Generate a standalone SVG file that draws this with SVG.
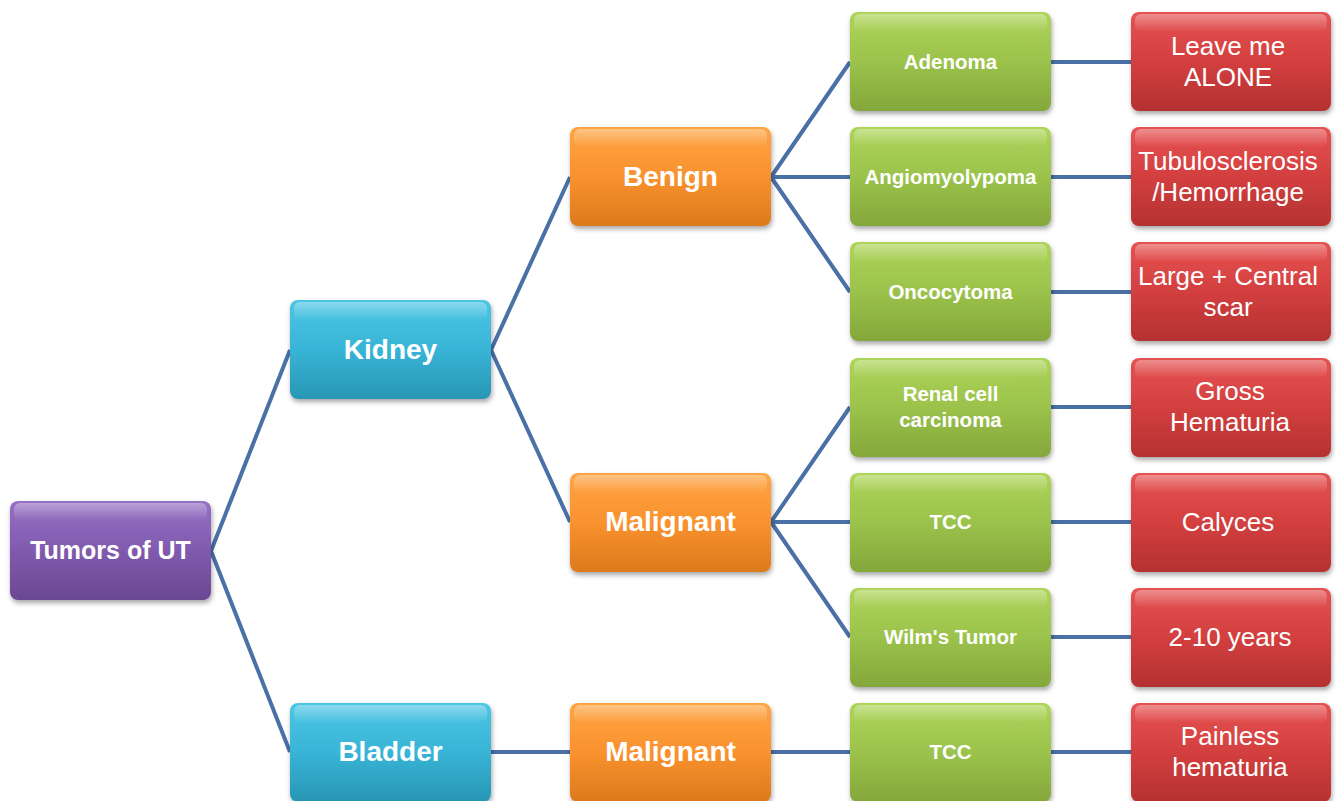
<svg xmlns="http://www.w3.org/2000/svg" width="1336" height="801" viewBox="0 0 1336 801">
<defs>
<linearGradient id="gP" x1="0" y1="0" x2="0" y2="1"><stop offset="0" stop-color="#9670c4"/><stop offset="0.5" stop-color="#805aae"/><stop offset="1" stop-color="#6b4892"/></linearGradient>
<linearGradient id="gC" x1="0" y1="0" x2="0" y2="1"><stop offset="0" stop-color="#4cc6e4"/><stop offset="0.5" stop-color="#38b4d6"/><stop offset="1" stop-color="#2896b4"/></linearGradient>
<linearGradient id="gO" x1="0" y1="0" x2="0" y2="1"><stop offset="0" stop-color="#ffa443"/><stop offset="0.5" stop-color="#f9922e"/><stop offset="1" stop-color="#dc7a1c"/></linearGradient>
<linearGradient id="gG" x1="0" y1="0" x2="0" y2="1"><stop offset="0" stop-color="#aed459"/><stop offset="0.5" stop-color="#9bc24b"/><stop offset="1" stop-color="#84a73a"/></linearGradient>
<linearGradient id="gR" x1="0" y1="0" x2="0" y2="1"><stop offset="0" stop-color="#e65252"/><stop offset="0.5" stop-color="#d33f3f"/><stop offset="1" stop-color="#b53131"/></linearGradient>
<linearGradient id="hl" x1="0" y1="0" x2="0" y2="1"><stop offset="0" stop-color="#fff" stop-opacity="0.35"/><stop offset="1" stop-color="#fff" stop-opacity="0"/></linearGradient>
<filter id="sh" x="-10%" y="-10%" width="125%" height="130%"><feDropShadow dx="1" dy="3" stdDeviation="2.5" flood-color="#000" flood-opacity="0.35"/></filter>
</defs>
<style>
.box{filter:url(#sh);}
.hl{fill:url(#hl);}
.t{font-family:"Liberation Sans",Arial,sans-serif;font-weight:bold;fill:#fff;text-anchor:middle;}
.t1{font-size:25px;}
.t2{font-size:28px;}
.t3{font-size:20.5px;}
.t4{font-family:"Liberation Sans",Arial,sans-serif;font-size:26px;fill:#fff;text-anchor:middle;}
.c{stroke:#4a70a6;stroke-width:4;fill:none;}
</style>
<g id="connectors">
<path class="c" d="M211,551 L290,350 M211,551 L290,752"/>
<path class="c" d="M491,350 L570,177 M491,350 L570,522"/>
<path class="c" d="M490,752 L570,752"/>
<path class="c" d="M771,177 L850,62 M771,177 L850,177 M771,177 L850,292"/>
<path class="c" d="M771,522 L850,407 M771,522 L850,522 M771,522 L850,637"/>
<path class="c" d="M770,752 L850,752"/>
<path class="c" d="M1051,62 L1131,62 M1051,177 L1131,177 M1051,292 L1131,292 M1051,407 L1131,407 M1051,522 L1131,522 M1051,637 L1131,637 M1051,752 L1131,752"/>
</g>
<g id="root"><rect class="box" x="10" y="501" width="201" height="99" rx="8" fill="url(#gP)"/><rect class="hl" x="14" y="503" width="193" height="18" rx="6"/><text class="t t1" x="110.5" y="559">Tumors of UT</text></g>
<g id="kidney"><rect class="box" x="290" y="300" width="201" height="99" rx="8" fill="url(#gC)"/><rect class="hl" x="294" y="302" width="193" height="18" rx="6"/><text class="t t2" x="390.5" y="359">Kidney</text></g>
<g id="bladder"><rect class="box" x="290" y="703" width="201" height="99" rx="8" fill="url(#gC)"/><rect class="hl" x="294" y="705" width="193" height="18" rx="6"/><text class="t t2" x="390.5" y="761">Bladder</text></g>
<g id="benign"><rect class="box" x="570" y="127" width="201" height="99" rx="8" fill="url(#gO)"/><rect class="hl" x="574" y="129" width="193" height="18" rx="6"/><text class="t t2" x="670.5" y="186">Benign</text></g>
<g id="malignant-kidney"><rect class="box" x="570" y="473" width="201" height="99" rx="8" fill="url(#gO)"/><rect class="hl" x="574" y="475" width="193" height="18" rx="6"/><text class="t t2" x="670.5" y="531">Malignant</text></g>
<g id="malignant-bladder"><rect class="box" x="570" y="703" width="201" height="99" rx="8" fill="url(#gO)"/><rect class="hl" x="574" y="705" width="193" height="18" rx="6"/><text class="t t2" x="670.5" y="761">Malignant</text></g>
<g id="adenoma"><rect class="box" x="850" y="12" width="201" height="99" rx="8" fill="url(#gG)"/><rect class="hl" x="854" y="14" width="193" height="18" rx="6"/><text class="t t3" x="950.5" y="69">Adenoma</text></g>
<g id="angiomyolypoma"><rect class="box" x="850" y="127" width="201" height="99" rx="8" fill="url(#gG)"/><rect class="hl" x="854" y="129" width="193" height="18" rx="6"/><text class="t t3" x="950.5" y="184">Angiomyolypoma</text></g>
<g id="oncocytoma"><rect class="box" x="850" y="242" width="201" height="99" rx="8" fill="url(#gG)"/><rect class="hl" x="854" y="244" width="193" height="18" rx="6"/><text class="t t3" x="950.5" y="299">Oncocytoma</text></g>
<g id="rcc"><rect class="box" x="850" y="358" width="201" height="99" rx="8" fill="url(#gG)"/><rect class="hl" x="854" y="360" width="193" height="18" rx="6"/><text class="t t3" x="950.5" y="401">Renal cell</text><text class="t t3" x="950.5" y="427">carcinoma</text></g>
<g id="tcc-kidney"><rect class="box" x="850" y="473" width="201" height="99" rx="8" fill="url(#gG)"/><rect class="hl" x="854" y="475" width="193" height="18" rx="6"/><text class="t t3" x="950.5" y="529">TCC</text></g>
<g id="wilms"><rect class="box" x="850" y="588" width="201" height="99" rx="8" fill="url(#gG)"/><rect class="hl" x="854" y="590" width="193" height="18" rx="6"/><text class="t t3" x="950.5" y="644">Wilm's Tumor</text></g>
<g id="tcc-bladder"><rect class="box" x="850" y="703" width="201" height="99" rx="8" fill="url(#gG)"/><rect class="hl" x="854" y="705" width="193" height="18" rx="6"/><text class="t t3" x="950.5" y="759">TCC</text></g>
<g id="leave-alone"><rect class="box" x="1131" y="12" width="200" height="99" rx="8" fill="url(#gR)"/><rect class="hl" x="1135" y="14" width="192" height="18" rx="6"/><text class="t4" x="1228" y="55">Leave me</text><text class="t4" x="1228" y="86">ALONE</text></g>
<g id="tubulosclerosis"><rect class="box" x="1131" y="127" width="200" height="99" rx="8" fill="url(#gR)"/><rect class="hl" x="1135" y="129" width="192" height="18" rx="6"/><text class="t4" x="1228" y="170">Tubulosclerosis</text><text class="t4" x="1228" y="201">/Hemorrhage</text></g>
<g id="large-scar"><rect class="box" x="1131" y="242" width="200" height="99" rx="8" fill="url(#gR)"/><rect class="hl" x="1135" y="244" width="192" height="18" rx="6"/><text class="t4" x="1228" y="285">Large + Central</text><text class="t4" x="1228" y="316">scar</text></g>
<g id="gross-hematuria"><rect class="box" x="1131" y="358" width="200" height="99" rx="8" fill="url(#gR)"/><rect class="hl" x="1135" y="360" width="192" height="18" rx="6"/><text class="t4" x="1230" y="400">Gross</text><text class="t4" x="1230" y="431">Hematuria</text></g>
<g id="calyces"><rect class="box" x="1131" y="473" width="200" height="99" rx="8" fill="url(#gR)"/><rect class="hl" x="1135" y="475" width="192" height="18" rx="6"/><text class="t4" x="1228" y="531">Calyces</text></g>
<g id="years"><rect class="box" x="1131" y="588" width="200" height="99" rx="8" fill="url(#gR)"/><rect class="hl" x="1135" y="590" width="192" height="18" rx="6"/><text class="t4" x="1230" y="646">2-10 years</text></g>
<g id="painless"><rect class="box" x="1131" y="703" width="200" height="99" rx="8" fill="url(#gR)"/><rect class="hl" x="1135" y="705" width="192" height="18" rx="6"/><text class="t4" x="1230" y="745">Painless</text><text class="t4" x="1230" y="776">hematuria</text></g>
</svg>
